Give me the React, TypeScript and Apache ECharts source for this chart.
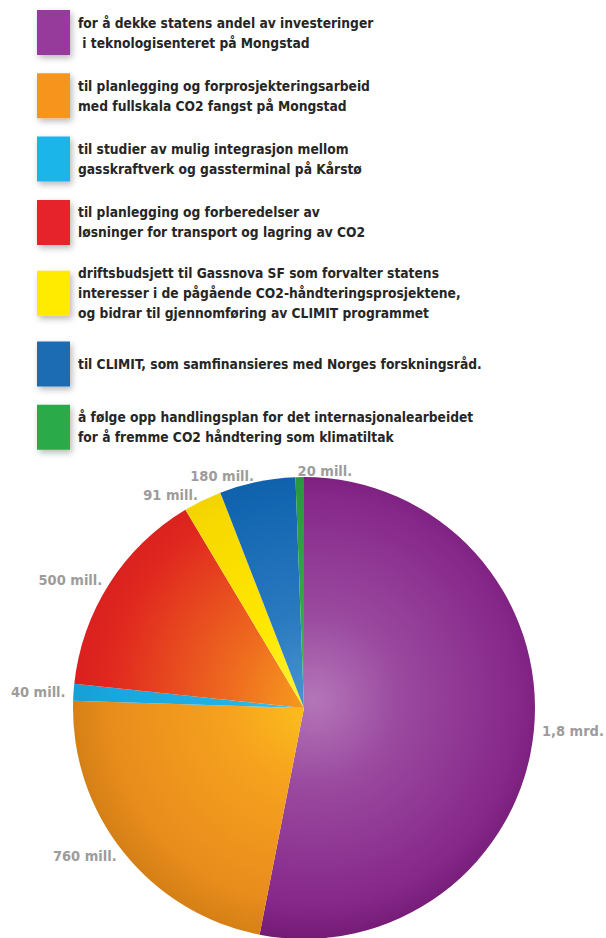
import React, { useEffect, useRef } from "react";
import * as echarts from "echarts";

const categories = [
  "for å dekke statens andel av investeringer\n i teknologisenteret på Mongstad",
  "til planlegging og forprosjekteringsarbeid\nmed fullskala CO2 fangst på Mongstad",
  "til studier av mulig integrasjon mellom\ngasskraftverk og gassterminal på Kårstø",
  "til planlegging og forberedelser av\nløsninger for transport og lagring av CO2",
  "driftsbudsjett til Gassnova SF som forvalter statens\ninteresser i de pågående CO2-håndteringsprosjektene,\nog bidrar til gjennomføring av CLIMIT programmet",
  "til CLIMIT, som samfinansieres med Norges forskningsråd.",
  "å følge opp handlingsplan for det internasjonalearbeidet\nfor å fremme CO2 håndtering som klimatiltak",
];
const values = [1800, 760, 40, 500, 91, 180, 20];
const valueLabels = ["1,8 mrd.", "760 mill.", "40 mill.", "500 mill.", "91 mill.", "180 mill.", "20 mill."];
const legendColors = ["#963B9C", "#F7941D", "#1CB5EA", "#E6222A", "#FFEB00", "#1B6CB4", "#2BAA4A"];
const gradientStops: string[][] = [
  ["#B476B8", "#9A4A9F", "#86278A", "#5C0C5A"],
  ["#FCC21C", "#F6A21E", "#E88C1C", "#BF720F"],
  ["#4CC4EE", "#22B2E6", "#18A6DD", "#1398CF"],
  ["#F7A01E", "#EE6A1F", "#E0281F", "#D0161E"],
  ["#FFF33A", "#FFE800", "#F7D800", "#EAC800"],
  ["#4A95D2", "#2A7AC0", "#1265B0", "#0C579E"],
  ["#4DBA5E", "#34A84A", "#2A9A40", "#23883A"],
];

const FONT = "'DejaVu Sans Condensed', 'Liberation Sans Narrow', sans-serif";

export default function App() {
  const ref = useRef<HTMLDivElement>(null);
  useEffect(() => {
    if (!ref.current) return;
    const chart = echarts.init(ref.current, null, { renderer: "svg" });
    const grad = (stops: string[]) =>
      new echarts.graphic.RadialGradient(
        314,
        700,
        285,
        [
          { offset: 0, color: stops[0] },
          { offset: 0.3, color: stops[1] },
          { offset: 0.72, color: stops[2] },
          { offset: 1, color: stops[3] },
        ],
        true
      );
    chart.setOption({
      animation: false,
      backgroundColor: "#ffffff",
      legend: {
        orient: "vertical",
        left: 37,
        top: 10,
        padding: 0,
        itemWidth: 33,
        itemHeight: 45,
        itemGap: 18.3,
        selectedMode: false,
        icon: "rect",
        data: categories.map((c, i) => ({
          name: c,
          itemStyle: {
            color: legendColors[i],
            shadowBlur: 6,
            shadowColor: "rgba(0,0,0,0.28)",
            shadowOffsetX: 2,
            shadowOffsetY: 3,
          },
        })),
        textStyle: {
          fontFamily: FONT,
          fontWeight: "bold",
          fontSize: 13.7,
          lineHeight: 20,
          color: "#262626",
          padding: [0, 0, 0, 3],
        },
      },
      series: [
        {
          type: "pie",
          center: [304, 708],
          radius: 231,
          startAngle: 90,
          clockwise: true,
          avoidLabelOverlap: false,
          emphasis: { disabled: true },
          itemStyle: { borderWidth: 0 },
          label: {
            show: true,
            position: "outside",
            formatter: (p: any) => valueLabels[p.dataIndex],
            fontFamily: FONT,
            fontWeight: "bold",
            fontSize: 14.5,
            color: "#9c9c9c",
            distanceToLabelLine: 2,
            padding: [0, 0, 12, 0],
          },
          labelLine: { show: false, length: 6, length2: 0 },
          labelLayout: (p: any) => (p.dataIndex === values.length - 1 ? { align: "left" } : {}),
          data: values.map((v, i) => ({
            name: categories[i],
            value: v,
            itemStyle: { color: grad(gradientStops[i]) },
          })),
        },
      ],
    });
    return () => chart.dispose();
  }, []);
  return (
    <div
      ref={ref}
      style={{ position: "absolute", left: 0, top: 0, width: 606, height: 938 }}
    />
  );
}
